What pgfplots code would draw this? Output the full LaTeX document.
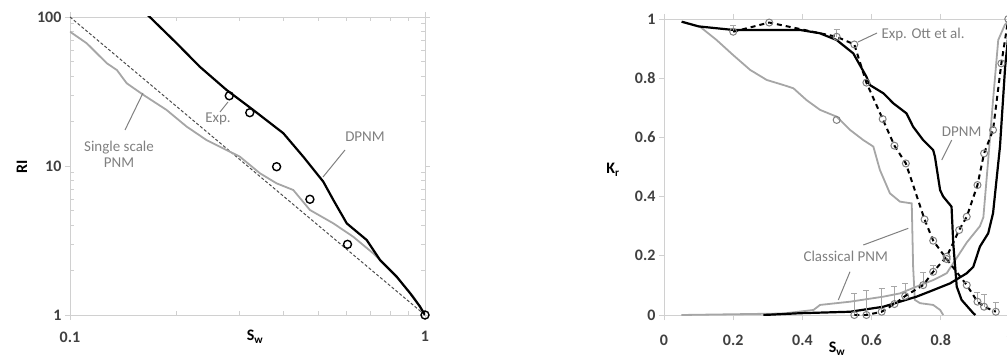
\documentclass[border=0pt]{standalone}
\usepackage{fontspec}
\setmainfont{Carlito}
\usepackage{pgfplots}
\pgfplotsset{compat=1.18}
\definecolor{lgray}{HTML}{A6A6A6}
\definecolor{tgray}{HTML}{808080}
\definecolor{agray}{HTML}{D0D0D0}
\definecolor{tcol}{HTML}{404040}
\pgfplotsset{
  mycommon/.style={
    scale only axis,
    anchor=south west,
    axis line style={agray, line width=0.8pt},
    every tick/.style={agray, line width=0.8pt},
    tick align=outside,
    major tick length=5pt,
    minor tick length=3pt,
    tick label style={font=\bfseries\fontsize{16}{18}\selectfont, text=tcol},
    /pgf/number format/assume math mode=true,
    clip=true,
  }
}
\begin{document}
\begin{tikzpicture}
\useasboundingbox (0pt,0pt) rectangle (1007pt,354pt);
\clip (0pt,0pt) rectangle (1007pt,354pt);
% ---------------- left panel ----------------
\begin{axis}[mycommon,
  at={(70pt,39pt)}, width=355pt, height=298pt,
  xmode=log, ymode=log,
  xmin=0.1, xmax=1, ymin=1, ymax=100,
  xtick={0.1,1}, xticklabels={\textbf{0.1},\textbf{1}},
  ytick={1,10,100}, yticklabels={\textbf{1},\textbf{10},\textbf{100}},
  minor xtick={0.2,0.3,0.4,0.5,0.6,0.7,0.8,0.9},
  minor ytick={2,3,4,5,6,7,8,9,20,30,40,50,60,70,80,90},
  minor tick length=-4pt,
  xticklabel style={yshift=-8pt},
]
\addplot[densely dashed, color=black!70, line width=1pt] coordinates {(0.1,100) (1,1)};
\addplot[lgray, line width=1.8pt] coordinates {
(0.1,79.7) (0.1115,66.6) (0.127,48.9) (0.1355,44.1) (0.1445,35.9) (0.161,30.0)
(0.187,23.8) (0.213,18.4) (0.2427,14.9) (0.276,12.8) (0.301,11.55) (0.343,8.93)
(0.382,7.65) (0.4256,6.9) (0.474,5.07) (0.552,4.12) (0.628,3.35) (0.715,2.59)
(0.814,1.905) (0.927,1.33) (1,1)};
\addplot[black, line width=2.2pt] coordinates {
(0.165,104) (0.1998,66.6) (0.232,46.4) (0.276,32.4) (0.328,23.8) (0.399,16.6)
(0.454,11.55) (0.517,7.85) (0.552,5.91) (0.602,4.12) (0.685,3.19) (0.747,2.34)
(0.832,1.81) (0.908,1.40) (0.968,1.14) (1,1)};
\addplot[only marks, mark=o, mark size=4pt, mark options={black, line width=1.4pt, fill=white}] coordinates {
(0.281,29.6) (0.321,22.8) (0.382,9.89) (0.474,5.98) (0.605,2.98) (1,1)};
\end{axis}
% ---------------- right panel ----------------
\begin{axis}[mycommon,
  at={(664pt,39pt)}, width=346pt, height=296pt,
  xmin=0, xmax=1, ymin=0, ymax=1,
  xtick={0,0.2,0.4,0.6,0.8,1}, ytick={0,0.2,0.4,0.6,0.8,1},
  xticklabel style={yshift=-11pt},
]
% classical PNM (gray)
\addplot[lgray, line width=1.8pt] coordinates {
(0.051,0.99) (0.104,0.974) (0.152,0.929) (0.2,0.878) (0.249,0.828) (0.297,0.794)
(0.345,0.777) (0.374,0.766) (0.412,0.726) (0.451,0.693) (0.499,0.670) (0.538,0.625)
(0.576,0.591) (0.605,0.569) (0.624,0.490) (0.653,0.411) (0.682,0.383) (0.716,0.377)
(0.720,0.163) (0.725,0.051) (0.740,0.040) (0.778,0.034) (0.798,0.017) (0.807,0)};
\addplot[lgray, line width=1.8pt] coordinates {
(0.05,0) (0.345,0.005) (0.432,0.017) (0.451,0.034) (0.538,0.045) (0.634,0.062)
(0.682,0.073) (0.730,0.096) (0.778,0.118) (0.817,0.141) (0.836,0.175) (0.875,0.245)
(0.913,0.30) (0.923,0.33) (0.937,0.524) (0.951,0.726) (0.966,0.929) (0.985,0.98) (1,1)};
% DPNM (black)
\addplot[black, line width=2.2pt] coordinates {
(0.051,0.991) (0.1,0.975) (0.2,0.963) (0.393,0.963) (0.45,0.952) (0.499,0.929)
(0.547,0.884) (0.585,0.805) (0.595,0.777) (0.634,0.749) (0.663,0.715) (0.701,0.681)
(0.720,0.636) (0.749,0.591) (0.778,0.557) (0.783,0.535) (0.798,0.422) (0.807,0.400)
(0.831,0.366) (0.836,0.242) (0.846,0.096) (0.860,0.051) (0.894,0.006) (0.90,0)};
\addplot[black, line width=2.2pt] coordinates {
(0.287,0) (0.393,0.006) (0.538,0.011) (0.634,0.028) (0.730,0.062) (0.778,0.084)
(0.827,0.107) (0.875,0.141) (0.894,0.163) (0.913,0.231) (0.937,0.276) (0.951,0.344)
(0.971,0.569) (0.986,0.839) (1,1)};
% error bars
\addplot[draw=none, mark=none, forget plot,
  error bars/.cd, y dir=plus, y explicit,
  error bar style={lgray, line width=0.9pt},
  error mark options={rotate=90, lgray, mark size=3pt, line width=0.9pt}] coordinates {
(0.55,0) +- (0,0.073) (0.585,0) +- (0,0.084) (0.629,0.011) +- (0,0.079)
(0.666,0.037) +- (0,0.059) (0.697,0.064) +- (0,0.043) (0.749,0.101) +- (0,0.042)
(0.778,0.146) +- (0,0.02) (0.906,0.045) +- (0,0.03) (0.925,0.028) +- (0,0.04)
(0.959,0.011) +- (0,0.03) (0.499,0.94) +- (0,0.025) (0.2,0.957) +- (0,0.02)};
% experiments (dashed + circles)
\addplot[black, line width=2pt, dash pattern=on 5pt off 4pt,
  mark=o, mark size=3.5pt, mark options={solid, tgray, fill=white, line width=1pt}] coordinates {
(0.2,0.957) (0.304,0.988) (0.499,0.940) (0.550,0.914) (0.585,0.785) (0.632,0.662)
(0.666,0.572) (0.699,0.512) (0.753,0.323) (0.778,0.251) (0.817,0.189) (0.875,0.101)
(0.906,0.045) (0.925,0.028) (0.959,0.011)};
\addplot[black, line width=2pt, dash pattern=on 5pt off 4pt,
  mark=o, mark size=3.5pt, mark options={solid, tgray, fill=white, line width=1pt}] coordinates {
(0.55,0) (0.585,0) (0.629,0.011) (0.666,0.037) (0.697,0.064) (0.749,0.101)
(0.778,0.146) (0.817,0.197) (0.853,0.287) (0.875,0.332) (0.906,0.439) (0.925,0.546)
(0.951,0.625) (0.975,0.85) (0.995,1.0)};
\addplot[only marks, mark=o, mark size=3.5pt, mark options={tgray, fill=white, line width=1pt}] coordinates {(0.499,0.659)};
\end{axis}
% ---------------- labels and annotations ----------------
\begin{scope}[x=1pt, y=1pt, font=\fontsize{15}{18}\selectfont]
\node[rotate=90, font=\bfseries\fontsize{16}{18}\selectfont] at (22,187) {RI};
\node[font=\bfseries\fontsize{16}{18}\selectfont] at (255,17) {S\textsubscript{w}};
\node[font=\bfseries\fontsize{16}{18}\selectfont] at (613,184) {K\textsubscript{r}};
\node[font=\bfseries\fontsize{16}{18}\selectfont] at (837,5) {S\textsubscript{w}};
\node[text=tgray] at (218,235) {Exp.};
\draw[tgray, line width=1pt] (220,242) -- (228,252);
\node[text=tgray, align=center, inner sep=0pt] at (119,200) {Single scale\\[-2pt]PNM};
\draw[tgray, line width=1pt] (125,224) -- (143,261);
\node[text=tgray] at (365,217) {DPNM};
\draw[tgray, line width=1pt] (345,204) -- (323,177);
\node[text=tgray, anchor=west] at (878,319) {Exp. Ott et al.};
\draw[tgray, line width=1pt] (877,321) -- (858,312);
\node[text=tgray] at (961.7,222.3) {DPNM};
\draw[tgray, line width=1pt] (951.7,214) -- (941.7,194);
\node[text=tgray] at (845.7,98) {Classical PNM};
\draw[tgray, line width=1pt] (863.3,109) -- (908.3,125.7);
\draw[tgray, line width=1pt] (850,82.3) -- (838.3,54);
\end{scope}
\end{tikzpicture}
\end{document}
